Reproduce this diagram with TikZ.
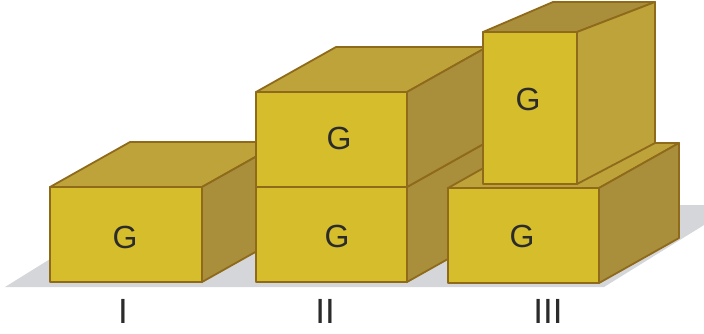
\documentclass[tikz,border=0pt]{standalone}
\usepackage{fontspec}
\setmainfont{Liberation Sans}
\definecolor{boxfront}{HTML}{D5BD2B}
\definecolor{boxtop}{HTML}{BEA33A}
\definecolor{boxside}{HTML}{A98F3C}
\definecolor{boxedge}{HTML}{8E6A1A}
\definecolor{floorgray}{HTML}{D5D6D9}
\definecolor{labeltext}{HTML}{2B2B2B}

\begin{document}
\begin{tikzpicture}[x=0.5pt, y=-0.5pt, line join=round,
        face/.style={draw=boxedge, line width=0.9pt},
        glabel/.style={font=\fontsize{16}{16}\selectfont, text=labeltext, inner sep=0pt},
        numlabel/.style={font=\fontsize{17.5}{17.5}\selectfont, text=labeltext, inner sep=0pt}
    ]
        \useasboundingbox (0,0) rectangle (704,333);
        \fill[floorgray] (5,287) -- (604,287) -- (704,225) -- (704,205) -- (137,205) -- cycle;
        \foreach \x/\y/\w in {50/187/152, 256/187/151, 256/92/151, 448/188/151} {
            \filldraw[face, fill=boxfront] (\x,\y) rectangle ++(\w,95);
            \filldraw[face, fill=boxtop] (\x,\y) -- ++(80,-45) -- ++(\w,0) -- ++(-80,45) -- cycle;
            \filldraw[face, fill=boxside] (\x+\w,\y) -- ++(80,-45) -- ++(0,95) -- ++(-80,45) -- cycle;
        }
        % the box standing on end
        \filldraw[face, fill=boxfront] (483,32) rectangle (577,184);
        \filldraw[face, fill=boxside] (483,32) -- (553,2) -- (655,2) -- (577,32) -- cycle;
        \filldraw[face, fill=boxtop] (577,32) -- (655,2) -- (655,143) -- (577,184) -- cycle;
        \node[glabel] (gI)    at (125,237) {G};
        \node[glabel] (gIIa)  at (337,236) {G};
        \node[glabel] (gIIb)  at (339,138) {G};
        \node[glabel] (gIIIa) at (522,236) {G};
        \node[glabel] (gIIIb) at (528,99)  {G};
        \node[numlabel] (labI)   at (123,311) {I};
        \node[numlabel] (labII)  at (325,311) {II};
        \node[numlabel] (labIII) at (548,311) {III};
    \end{tikzpicture}
\end{document}
